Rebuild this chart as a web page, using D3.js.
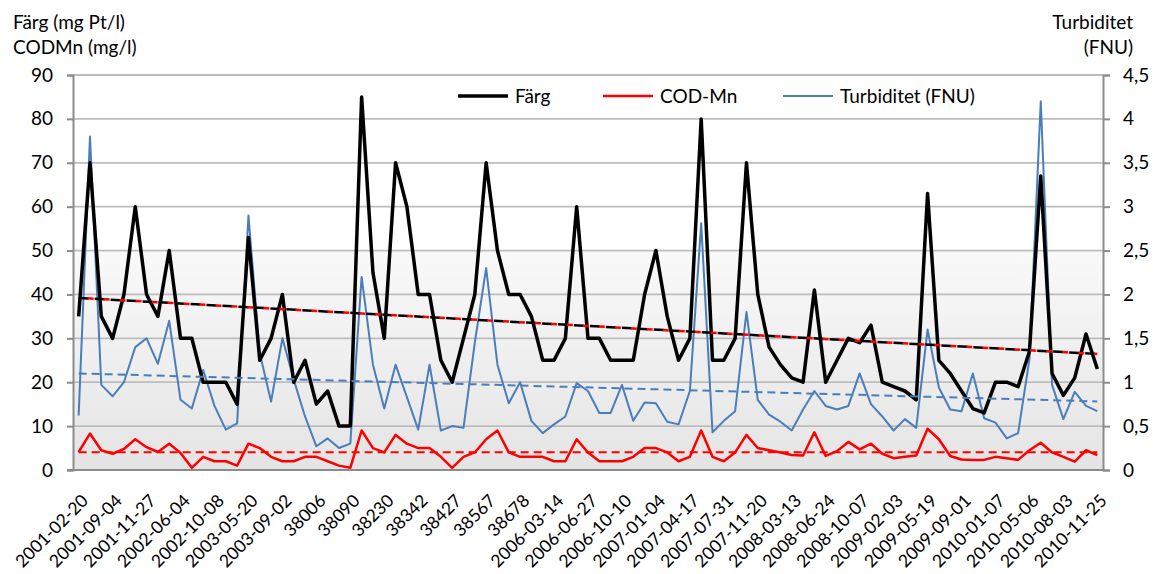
<!DOCTYPE html>
<html>
<head>
<meta charset="utf-8">
<script src="https://cdn.jsdelivr.net/npm/d3@7"></script>
<style>
  body { margin: 0; background: #fff; }
  text { font-family: Lato, "Open Sans", sans-serif; fill: #000; }
</style>
</head>
<body>
<svg id="chart" width="1153" height="574"></svg>
<script>
// tick labels, one for every third sample
const tickLabels = [
  "2001-02-20", "2001-09-04", "2001-11-27", "2002-06-04", "2002-10-08", "2003-05-20",
  "2003-09-02", "38006", "38090", "38230", "38342", "38427", "38567", "38678",
  "2006-03-14", "2006-06-27", "2006-10-10", "2007-01-04", "2007-04-17", "2007-07-31",
  "2007-11-20", "2008-03-13", "2008-06-24", "2008-10-07", "2009-02-03", "2009-05-19",
  "2009-09-01", "2010-01-07", "2010-05-06", "2010-08-03", "2010-11-25"
];

// Färg (mg Pt/l)
const farg = [
  35, 70, 35, 30, 40, 60, 40, 35, 50, 30, 30, 20, 20, 20, 15, 53, 25, 30, 40, 20,
  25, 15, 18, 10, 10, 85, 45, 30, 70, 60, 40, 40, 25, 20, 30, 40, 70, 50, 40, 40,
  35, 25, 25, 30, 60, 30, 30, 25, 25, 25, 40, 50, 35, 25, 30, 80, 25, 25, 30, 70,
  40, 28, 24, 21, 20, 41, 20, 25, 30, 29, 33, 20, 19, 18, 16, 63, 25, 22, 18, 14,
  13, 20, 20, 19, 27, 67, 22, 17, 21, 31, 23
];

// COD-Mn (mg/l)
const codmn = [
  4.1, 8.3, 4.5, 3.7, 4.8, 7, 5.2, 4.1, 6, 3.9, 0.5, 3, 2, 2, 1, 6, 5, 3, 2, 2,
  3, 3, 2, 1, 0.5, 9, 5, 4, 8, 6, 5, 5, 3, 0.5, 3, 4, 7, 9, 4, 3,
  3, 3, 2, 2, 7, 4, 2, 2, 2, 3, 5, 5, 4, 2, 3, 9, 3, 2, 4, 8,
  5, 4.5, 4, 3.4, 3.3, 8.6, 3.2, 4.3, 6.4, 4.7, 6, 3.7, 2.7, 3, 3.3, 9.4, 7, 3.2, 2.4, 2.3,
  2.3, 3, 2.7, 2.3, 4.5, 6.2, 4, 3, 1.9, 4.5, 3.4
];

// Turbiditet (FNU), right axis
const turb = [
  0.62, 3.8, 0.97, 0.84, 1.0, 1.4, 1.5, 1.21, 1.7, 0.8, 0.7, 1.14, 0.73, 0.46, 0.53, 2.9, 1.33, 0.78, 1.5, 1.03,
  0.61, 0.27, 0.36, 0.25, 0.3, 2.2, 1.2, 0.7, 1.2, 0.83, 0.46, 1.2, 0.45, 0.5, 0.48, 1.45, 2.3, 1.2, 0.76, 1.0,
  0.56, 0.42, 0.52, 0.61, 0.99, 0.9, 0.65, 0.65, 0.97, 0.56, 0.77, 0.76, 0.55, 0.52, 0.9, 2.81, 0.43, 0.56, 0.67, 1.8,
  0.8, 0.63, 0.55, 0.45, 0.69, 0.9, 0.73, 0.69, 0.73, 1.1, 0.75, 0.61, 0.45, 0.58, 0.48, 1.6, 0.94, 0.69, 0.67, 1.1,
  0.59, 0.54, 0.36, 0.42, 1.26, 4.2, 0.97, 0.58, 0.89, 0.73, 0.67
];

const seriesNames = ["Färg", "COD-Mn", "Turbiditet (FNU)"];
const leftTicks = [0, 10, 20, 30, 40, 50, 60, 70, 80, 90];
const rightTicks = [0, 0.5, 1, 1.5, 2, 2.5, 3, 3.5, 4, 4.5];

const svg = d3.select("#chart");
const m = { left: 73, right: 1103, top: 75, bottom: 470 };
const fs = "19px";

const x = d3.scaleBand().domain(d3.range(farg.length)).range([m.left, m.right]);
const cx = i => x(i) + x.bandwidth() / 2;
const y = d3.scaleLinear().domain([0, 90]).range([m.bottom, m.top]);
const y2 = d3.scaleLinear().domain([0, 4.5]).range([m.bottom, m.top]);
const fmt = d => String(d).replace(".", ",");

// plot background, white fading to grey in the lower half
const grad = svg.append("defs").append("linearGradient")
  .attr("id", "bg").attr("x1", 0).attr("y1", 0).attr("x2", 0).attr("y2", 1);
grad.append("stop").attr("offset", 0).attr("stop-color", "#ffffff");
grad.append("stop").attr("offset", 0.44).attr("stop-color", "#ffffff");
grad.append("stop").attr("offset", 0.45).attr("stop-color", "#f9f9f9");
grad.append("stop").attr("offset", 1).attr("stop-color", "#e4e4e4");

svg.append("rect")
  .attr("x", m.left).attr("y", m.top)
  .attr("width", m.right - m.left).attr("height", m.bottom - m.top)
  .attr("fill", "url(#bg)");

// gridlines
svg.append("g")
  .selectAll("line")
  .data(leftTicks.filter(d => d > 0))
  .enter()
  .append("line")
  .attr("x1", m.left).attr("x2", m.right)
  .attr("y1", d => y(d)).attr("y2", d => y(d))
  .attr("stroke", "#bdbdbd")
  .attr("stroke-width", 1.8);

// axes
const gL = svg.append("g")
  .attr("transform", `translate(${m.left},0)`)
  .call(d3.axisLeft(y).tickValues(leftTicks).tickSize(6).tickPadding(14));
const gR = svg.append("g")
  .attr("transform", `translate(${m.right},0)`)
  .call(d3.axisRight(y2).tickValues(rightTicks).tickSize(7).tickFormat(fmt).tickPadding(13));
[gL, gR].forEach(g => {
  g.select(".domain").attr("stroke", "#8c8c8c").attr("stroke-width", 2);
  g.selectAll(".tick line").attr("stroke", "#8c8c8c").attr("stroke-width", 2);
  g.selectAll(".tick text").style("font-size", fs).attr("fill", "#000");
});

svg.append("line")
  .attr("x1", m.left - 6).attr("x2", m.right)
  .attr("y1", m.bottom).attr("y2", m.bottom)
  .attr("stroke", "#8c8c8c").attr("stroke-width", 2);

// category labels every third sample
svg.append("g")
  .selectAll("text")
  .data(tickLabels)
  .enter()
  .append("text")
  .attr("transform", (d, k) => `translate(${cx(k * 3)},${m.bottom}) rotate(-45)`)
  .attr("text-anchor", "end")
  .attr("dx", -15)
  .attr("dy", 30)
  .style("font-size", "17.5px")
  .text(d => d);

// axis titles
svg.append("text").attr("x", 13).attr("y", 29).style("font-size", fs).text("Färg (mg Pt/l)");
svg.append("text").attr("x", 13).attr("y", 54).style("font-size", fs).text("CODMn (mg/l)");
svg.append("text").attr("x", 1133).attr("y", 29).attr("text-anchor", "end").style("font-size", fs).text("Turbiditet");
svg.append("text").attr("x", 1133).attr("y", 54).attr("text-anchor", "end").style("font-size", fs).text("(FNU)");

// series
const lineL = d3.line().x((d, i) => cx(i)).y(d => y(d));
const lineR = d3.line().x((d, i) => cx(i)).y(d => y2(d));

svg.append("path").datum(turb).attr("d", lineR)
  .attr("fill", "none").attr("stroke", "#4a7ebb").attr("stroke-width", 2).attr("stroke-linejoin", "round");
svg.append("path").datum(farg).attr("d", lineL)
  .attr("fill", "none").attr("stroke", "#000").attr("stroke-width", 3.5).attr("stroke-linejoin", "round");
svg.append("path").datum(codmn).attr("d", lineL)
  .attr("fill", "none").attr("stroke", "#ff0000").attr("stroke-width", 2.5).attr("stroke-linejoin", "round");

// linear trendlines (least squares over sample index)
function trend(vals) {
  const xs = d3.range(vals.length);
  const mx = d3.mean(xs), my = d3.mean(vals);
  const b = d3.sum(xs, k => (k - mx) * (vals[k] - my)) / d3.sum(xs, k => (k - mx) ** 2);
  const a = my - b * mx;
  return [[0, a], [vals.length - 1, a + b * (vals.length - 1)]];
}
const tl = sc => d3.line().x(d => cx(d[0])).y(d => sc(d[1]));

svg.append("path").datum(trend(turb)).attr("d", tl(y2))
  .attr("fill", "none").attr("stroke", "#4a7ebb").attr("stroke-width", 2).attr("stroke-dasharray", "8,5");
svg.append("path").datum(trend(codmn)).attr("d", tl(y))
  .attr("fill", "none").attr("stroke", "#ff0000").attr("stroke-width", 2).attr("stroke-dasharray", "8,5");
svg.append("path").datum(trend(farg)).attr("d", tl(y))
  .attr("fill", "none").attr("stroke", "#000").attr("stroke-width", 2.5).attr("stroke-dasharray", "10,6");
svg.append("path").datum(trend(farg)).attr("d", tl(y))
  .attr("fill", "none").attr("stroke", "#ff0000").attr("stroke-width", 2.5)
  .attr("stroke-dasharray", "6,10").attr("stroke-dashoffset", -9);

// legend
const legendColors = ["#000000", "#ff0000", "#4a7ebb"];
const legendWidths = [3.5, 2.5, 2];
const legendX = [458, 603, 783];
const lg = svg.append("g").selectAll("g")
  .data(seriesNames)
  .enter()
  .append("g")
  .attr("transform", (d, k) => `translate(${legendX[k]},96)`);
lg.append("line")
  .attr("x1", 0).attr("x2", 50)
  .attr("stroke", (d, k) => legendColors[k])
  .attr("stroke-width", (d, k) => legendWidths[k]);
lg.append("text")
  .attr("x", 57).attr("dy", "0.35em")
  .style("font-size", fs)
  .text(d => d);
</script>
</body>
</html>
